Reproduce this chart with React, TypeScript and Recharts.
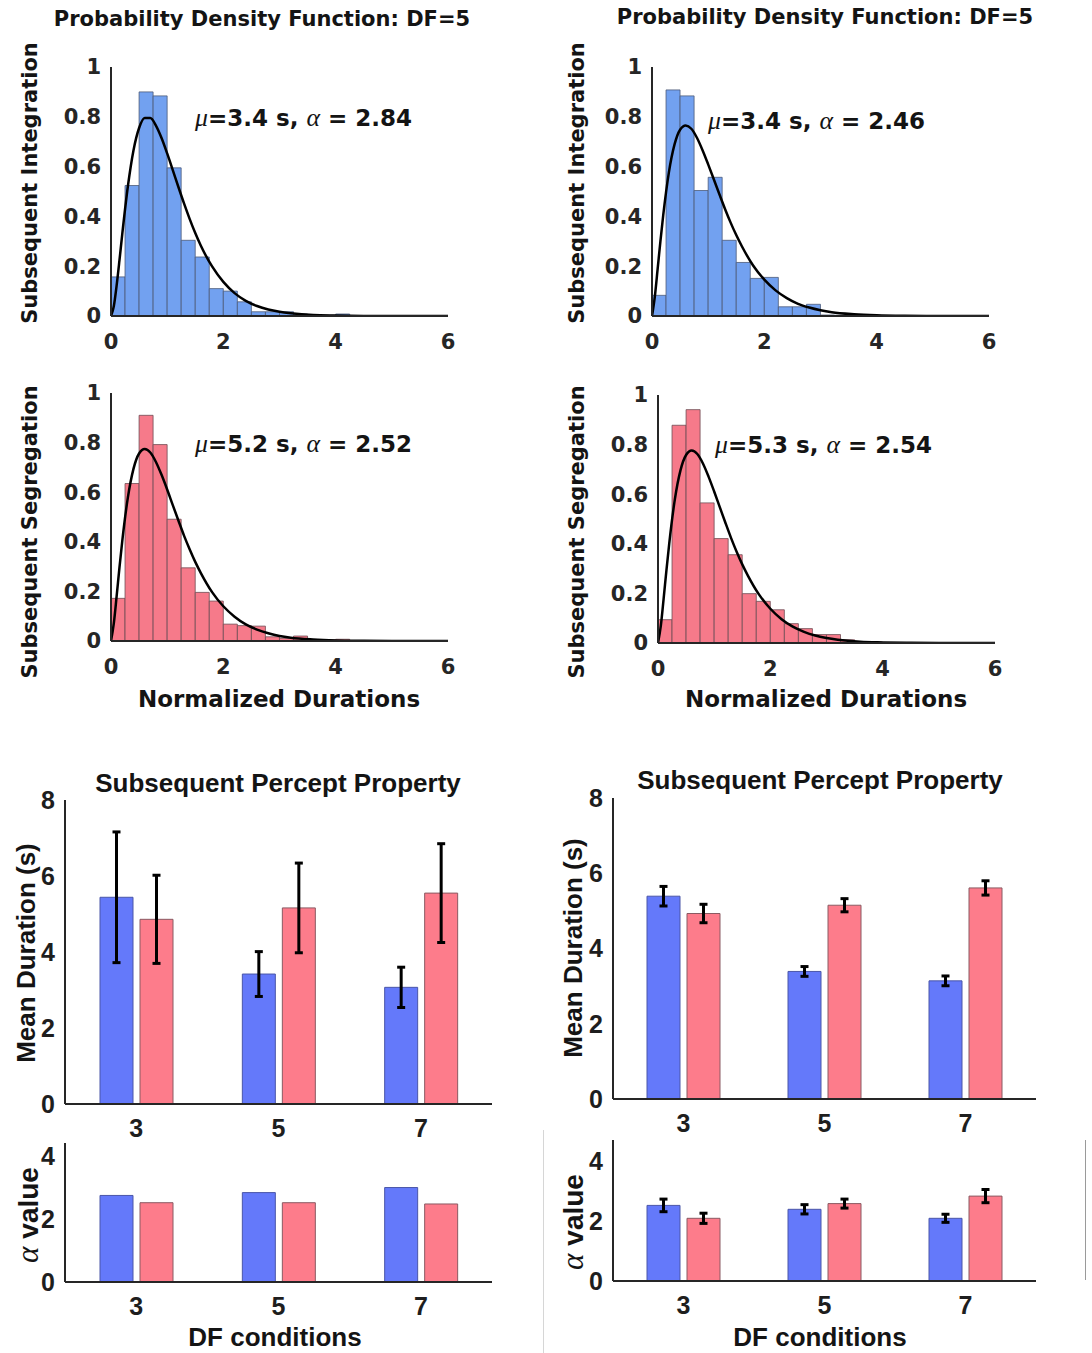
import React from 'react';
import { ComposedChart, Bar, Line, XAxis, YAxis, ErrorBar } from 'recharts';

// ---------- data ----------
const BIN_LABELS = ['0', '0.25', '0.5', '0.75', '1', '1.25', '1.5', '1.75', '2', '2.25', '2.5', '2.75', '3', '3.25', '3.5', '3.75', '4', '4.25', '4.5', '4.75', '5', '5.25', '5.5', '5.75'];

const HIST_INTEGRATION_L = [0.157, 0.524, 0.9, 0.884, 0.595, 0.304, 0.237, 0.11, 0.1, 0.057, 0.017, 0.017, 0.017, 0.008, 0.003, 0.003, 0.008, 0.002, 0.002, 0.001, 0.001, 0.001, 0.001, 0];
const HIST_INTEGRATION_R = [0.083, 0.908, 0.884, 0.504, 0.557, 0.304, 0.215, 0.151, 0.155, 0.037, 0.037, 0.047, 0.004, 0.003, 0.003, 0.003, 0.002, 0.001, 0.001, 0.001, 0, 0, 0, 0];
const HIST_SEGREGATION_L = [0.172, 0.635, 0.91, 0.792, 0.491, 0.295, 0.196, 0.161, 0.068, 0.062, 0.06, 0.017, 0.011, 0.02, 0.006, 0.005, 0.007, 0.002, 0.002, 0.001, 0.001, 0.001, 0, 0];
const HIST_SEGREGATION_R = [0.094, 0.878, 0.941, 0.565, 0.421, 0.356, 0.199, 0.168, 0.134, 0.078, 0.058, 0.034, 0.034, 0.013, 0.006, 0.004, 0.002, 0.002, 0.001, 0.001, 0, 0, 0, 0];

const CURVE_X = [0, 0.05, 0.1, 0.15, 0.2, 0.3, 0.4, 0.5, 0.6, 0.7, 0.8, 0.9, 1.0, 1.1, 1.2, 1.3, 1.4, 1.5, 1.6, 1.8, 2.0, 2.2, 2.4, 2.6, 2.8, 3.0, 3.2, 3.6, 4.0, 4.5, 5.0, 6.0];
const CURVE_INTEGRATION_L = [0, 0.039, 0.122, 0.222, 0.328, 0.52, 0.665, 0.755, 0.795, 0.795, 0.765, 0.715, 0.653, 0.586, 0.518, 0.452, 0.39, 0.333, 0.282, 0.199, 0.137, 0.092, 0.061, 0.04, 0.026, 0.017, 0.011, 0.004, 0.002, 0.0005, 0.0002, 0];
const CURVE_INTEGRATION_R = [0, 0.077, 0.188, 0.301, 0.405, 0.576, 0.688, 0.748, 0.765, 0.752, 0.716, 0.666, 0.609, 0.549, 0.489, 0.43, 0.375, 0.325, 0.28, 0.203, 0.146, 0.103, 0.072, 0.049, 0.034, 0.023, 0.015, 0.007, 0.003, 0.001, 0.0004, 0];
const CURVE_SEGREGATION_L = [0, 0.071, 0.18, 0.295, 0.402, 0.578, 0.694, 0.756, 0.774, 0.76, 0.722, 0.67, 0.611, 0.548, 0.486, 0.425, 0.37, 0.319, 0.274, 0.197, 0.14, 0.098, 0.067, 0.046, 0.031, 0.02, 0.013, 0.006, 0.0025, 0.001, 0.0003, 0];
const CURVE_SEGREGATION_R = [0, 0.069, 0.178, 0.293, 0.401, 0.579, 0.696, 0.758, 0.776, 0.762, 0.724, 0.671, 0.611, 0.548, 0.485, 0.424, 0.368, 0.317, 0.272, 0.195, 0.138, 0.096, 0.066, 0.045, 0.03, 0.02, 0.013, 0.005, 0.0024, 0.001, 0.0003, 0];

const HIST_X_TICKS = [0, 2, 4, 6];
const HIST_Y_TICKS = [0, 0.2, 0.4, 0.6, 0.8, 1];

const DF_LABELS = ['3', '5', '7'];
const DUR_Y_TICKS = [0, 2, 4, 6, 8];
const ALPHA_Y_TICKS = [0, 2, 4];

const DUR_INT_L = [5.44, 3.42, 3.07];
const DUR_INT_L_SD = [1.72, 0.59, 0.53];
const DUR_SEG_L = [4.86, 5.16, 5.55];
const DUR_SEG_L_SD = [1.16, 1.18, 1.3];

const DUR_INT_R = [5.39, 3.39, 3.14];
const DUR_INT_R_SD = [0.26, 0.13, 0.13];
const DUR_SEG_R = [4.93, 5.15, 5.61];
const DUR_SEG_R_SD = [0.245, 0.175, 0.19];

const ALPHA_INT_L = [2.74, 2.83, 2.99];
const ALPHA_SEG_L = [2.51, 2.51, 2.47];

const ALPHA_INT_R = [2.52, 2.39, 2.09];
const ALPHA_INT_R_SD = [0.21, 0.155, 0.135];
const ALPHA_SEG_R = [2.09, 2.58, 2.83];
const ALPHA_SEG_R_SD = [0.17, 0.15, 0.22];

// ---------- styles ----------
const TOP_FONT = '"DejaVu Sans", sans-serif';
const BOT_FONT = '"Liberation Sans", Arial, sans-serif';
const GREEK_FONT = '"Liberation Serif", "DejaVu Serif", serif';
const AXIS_COLOR = '#262626';
const HIST_BLUE = '#72a1f0';
const HIST_BLUE_EDGE = '#4b5a78';
const HIST_RED = '#f67a8a';
const HIST_RED_EDGE = '#6e4c54';
const BAR_BLUE = '#6479fa';
const BAR_BLUE_EDGE = '#4a56a8';
const BAR_RED = '#fd7c8b';
const BAR_RED_EDGE = '#8a5a62';

type Rect = { x0: number; x1: number; y0: number; y1: number };

const Y_W = 60;
const X_H = 40;
function frame(r: Rect) {
  const padL = 70, padT = 20, padR = 20, padB = 50;
  return {
    style: { position: 'absolute' as const, left: r.x0 - padL, top: r.y0 - padT },
    width: r.x1 - r.x0 + padL + padR,
    height: r.y1 - r.y0 + padT + padB,
    margin: { top: padT, right: padR, left: padL - Y_W, bottom: padB - X_H },
  };
}

function Txt(props: { x: number; y: number; size: number; family: string; rotate?: number; anchor?: 'start' | 'middle'; children: React.ReactNode }) {
  const { x, y, size, family, rotate, anchor = 'middle', children } = props;
  const tx = anchor === 'start' ? '0' : '-50%';
  return (
    <div
      style={{
        position: 'absolute',
        left: x,
        top: y,
        transform: `translate(${tx},-50%)${rotate ? ` rotate(${rotate}deg)` : ''}`,
        fontSize: size,
        fontFamily: family,
        fontWeight: 'bold',
        lineHeight: 1,
        whiteSpace: 'nowrap',
        color: '#141414',
      }}
    >
      {children}
    </div>
  );
}

const G = ({ children }: { children: React.ReactNode }) => (
  <span style={{ fontFamily: GREEK_FONT, fontStyle: 'italic', fontWeight: 'normal', fontSize: '1.12em' }}>{children}</span>
);

function Histogram(props: { rect: Rect; bins: number[]; curve: number[]; fill: string; edge: string }) {
  const { rect, bins, curve, fill, edge } = props;
  const f = frame(rect);
  const data = bins.map((v, i) => ({ bin: BIN_LABELS[i], v }));
  const curveData = CURVE_X.map((x, i) => ({ x, y: curve[i] }));
  const tickStyle = { fill: AXIS_COLOR, fontSize: 21, fontFamily: TOP_FONT, fontWeight: 'bold' };
  return (
    <div style={f.style}>
      <ComposedChart width={f.width} height={f.height} margin={f.margin} data={data} barCategoryGap={0} barGap={0}>
        <XAxis
          xAxisId="num"
          dataKey="x"
          type="number"
          domain={[0, 6]}
          ticks={HIST_X_TICKS}
          interval={0}
          height={X_H}
          axisLine={{ stroke: AXIS_COLOR, strokeWidth: 2 }}
          tickLine={false}
          tickSize={0}
          tickMargin={18}
          tick={tickStyle}
          allowDataOverflow
        />
        <XAxis xAxisId="bin" dataKey="bin" type="category" hide height={0} />
        <YAxis
          domain={[0, 1]}
          ticks={HIST_Y_TICKS}
          interval={0}
          width={Y_W}
          axisLine={{ stroke: AXIS_COLOR, strokeWidth: 2 }}
          tickLine={false}
          tickSize={0}
          tickMargin={10}
          tick={tickStyle}
          allowDataOverflow
        />
        <Bar xAxisId="bin" dataKey="v" fill={fill} stroke={edge} strokeWidth={0.8} isAnimationActive={false} />
        <Line
          xAxisId="num"
          data={curveData}
          dataKey="y"
          type="monotone"
          dot={false}
          activeDot={false}
          stroke="#000"
          strokeWidth={2.5}
          isAnimationActive={false}
        />
      </ComposedChart>
    </div>
  );
}

function GroupBars(props: {
  rect: Rect;
  domainMax: number;
  yTicks: number[];
  blue: number[];
  red: number[];
  blueSd?: number[];
  redSd?: number[];
}) {
  const { rect, domainMax, yTicks, blue, red, blueSd, redSd } = props;
  const f = frame(rect);
  const data = DF_LABELS.map((df, i) => ({
    df,
    blue: blue[i],
    red: red[i],
    blueErr: blueSd ? blueSd[i] : undefined,
    redErr: redSd ? redSd[i] : undefined,
  }));
  const tickStyle = { fill: '#1e1e1e', fontSize: 25, fontFamily: BOT_FONT, fontWeight: 'bold' };
  return (
    <div style={f.style}>
      <ComposedChart width={f.width} height={f.height} margin={f.margin} data={data} barSize={33} barGap={7}>
        <XAxis
          dataKey="df"
          type="category"
          interval={0}
          height={X_H}
          axisLine={{ stroke: AXIS_COLOR, strokeWidth: 2 }}
          tickLine={false}
          tickSize={0}
          tickMargin={15}
          tick={tickStyle}
        />
        <YAxis
          domain={[0, domainMax]}
          ticks={yTicks}
          interval={0}
          width={Y_W}
          axisLine={{ stroke: AXIS_COLOR, strokeWidth: 2 }}
          tickLine={false}
          tickSize={0}
          tickMargin={10}
          tick={tickStyle}
          allowDataOverflow
        />
        <Bar dataKey="blue" fill={BAR_BLUE} stroke={BAR_BLUE_EDGE} strokeWidth={1} isAnimationActive={false}>
          {blueSd && <ErrorBar dataKey="blueErr" direction="y" width={4} stroke="#000" strokeWidth={3} isAnimationActive={false} />}
        </Bar>
        <Bar dataKey="red" fill={BAR_RED} stroke={BAR_RED_EDGE} strokeWidth={1} isAnimationActive={false}>
          {redSd && <ErrorBar dataKey="redErr" direction="y" width={4} stroke="#000" strokeWidth={3} isAnimationActive={false} />}
        </Bar>
      </ComposedChart>
    </div>
  );
}

export default function App() {
  return (
    <div style={{ position: 'absolute', left: 0, top: 0, width: 1092, height: 1353, background: '#fff', overflow: 'hidden' }}>
      <Histogram rect={{ x0: 111, x1: 448, y0: 67, y1: 316 }} bins={HIST_INTEGRATION_L} curve={CURVE_INTEGRATION_L} fill={HIST_BLUE} edge={HIST_BLUE_EDGE} />
      <Histogram rect={{ x0: 652, x1: 989, y0: 67, y1: 316 }} bins={HIST_INTEGRATION_R} curve={CURVE_INTEGRATION_R} fill={HIST_BLUE} edge={HIST_BLUE_EDGE} />
      <Histogram rect={{ x0: 111, x1: 448, y0: 393, y1: 641 }} bins={HIST_SEGREGATION_L} curve={CURVE_SEGREGATION_L} fill={HIST_RED} edge={HIST_RED_EDGE} />
      <Histogram rect={{ x0: 658, x1: 995, y0: 395, y1: 643 }} bins={HIST_SEGREGATION_R} curve={CURVE_SEGREGATION_R} fill={HIST_RED} edge={HIST_RED_EDGE} />

      <GroupBars rect={{ x0: 65, x1: 492, y0: 800, y1: 1104 }} domainMax={8} yTicks={DUR_Y_TICKS} blue={DUR_INT_L} red={DUR_SEG_L} blueSd={DUR_INT_L_SD} redSd={DUR_SEG_L_SD} />
      <GroupBars rect={{ x0: 613, x1: 1036, y0: 798, y1: 1099 }} domainMax={8} yTicks={DUR_Y_TICKS} blue={DUR_INT_R} red={DUR_SEG_R} blueSd={DUR_INT_R_SD} redSd={DUR_SEG_R_SD} />
      <GroupBars rect={{ x0: 65, x1: 492, y0: 1143, y1: 1282 }} domainMax={4.4} yTicks={ALPHA_Y_TICKS} blue={ALPHA_INT_L} red={ALPHA_SEG_L} />
      <GroupBars rect={{ x0: 613, x1: 1036, y0: 1140, y1: 1281 }} domainMax={4.7} yTicks={ALPHA_Y_TICKS} blue={ALPHA_INT_R} red={ALPHA_SEG_R} blueSd={ALPHA_INT_R_SD} redSd={ALPHA_SEG_R_SD} />

      {/* titles */}
      <Txt x={262} y={19} size={21} family={TOP_FONT}>Probability Density Function: DF=5</Txt>
      <Txt x={825} y={17} size={21} family={TOP_FONT}>Probability Density Function: DF=5</Txt>
      <Txt x={278} y={783} size={26} family={BOT_FONT}>Subsequent Percept Property</Txt>
      <Txt x={820} y={780} size={26} family={BOT_FONT}>Subsequent Percept Property</Txt>

      {/* y labels */}
      <Txt x={30} y={183} size={21} family={TOP_FONT} rotate={-90}>Subsequent Integration</Txt>
      <Txt x={577} y={183} size={21} family={TOP_FONT} rotate={-90}>Subsequent Integration</Txt>
      <Txt x={30} y={532} size={21} family={TOP_FONT} rotate={-90}>Subsequent Segregation</Txt>
      <Txt x={577} y={532} size={21} family={TOP_FONT} rotate={-90}>Subsequent Segregation</Txt>
      <Txt x={26} y={953} size={26} family={BOT_FONT} rotate={-90}>Mean Duration (s)</Txt>
      <Txt x={573} y={948} size={26} family={BOT_FONT} rotate={-90}>Mean Duration (s)</Txt>
      <Txt x={28} y={1215} size={28} family={BOT_FONT} rotate={-90}><G>α</G> value</Txt>
      <Txt x={573} y={1222} size={28} family={BOT_FONT} rotate={-90}><G>α</G> value</Txt>

      {/* x labels */}
      <Txt x={279} y={699} size={23} family={TOP_FONT}>Normalized Durations</Txt>
      <Txt x={826} y={699} size={23} family={TOP_FONT}>Normalized Durations</Txt>
      <Txt x={275} y={1337} size={26} family={BOT_FONT}>DF conditions</Txt>
      <Txt x={820} y={1337} size={26} family={BOT_FONT}>DF conditions</Txt>

      {/* annotations */}
      <Txt x={195} y={118} size={23} family={TOP_FONT} anchor="start"><G>μ</G>=3.4 s, <G>α</G> = 2.84</Txt>
      <Txt x={708} y={121} size={23} family={TOP_FONT} anchor="start"><G>μ</G>=3.4 s, <G>α</G> = 2.46</Txt>
      <Txt x={195} y={444} size={23} family={TOP_FONT} anchor="start"><G>μ</G>=5.2 s, <G>α</G> = 2.52</Txt>
      <Txt x={715} y={445} size={23} family={TOP_FONT} anchor="start"><G>μ</G>=5.3 s, <G>α</G> = 2.54</Txt>

      {/* faint panel separators from the source figure */}
      <div style={{ position: 'absolute', left: 543, top: 1130, width: 1, height: 223, background: '#d6d6d6' }} />
      <div style={{ position: 'absolute', left: 1085, top: 1140, width: 1, height: 140, background: '#9a9a9a' }} />
    </div>
  );
}
